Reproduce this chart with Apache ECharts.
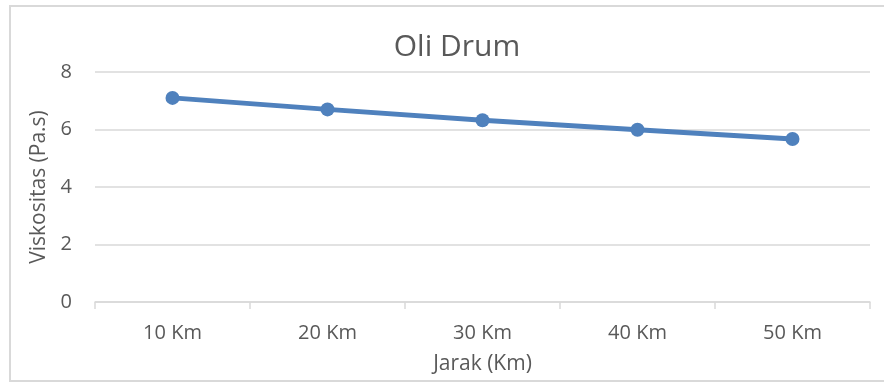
<!DOCTYPE html>
<html>
<head>
<meta charset="utf-8">
<title>Oli Drum</title>
<script src="https://cdn.jsdelivr.net/npm/echarts@6/dist/echarts.min.js"></script>
<style>
  html, body { margin: 0; padding: 0; background: #ffffff; }
  #chart { width: 884px; height: 383px; }
</style>
</head>
<body>
<div id="chart"></div>
<script>
// Distance travelled and measured oil viscosity
const categories = ['10 Km', '20 Km', '30 Km', '40 Km', '50 Km'];
const viskositas = [7.1, 6.7, 6.32, 5.99, 5.67];
const yTicks = { min: 0, max: 8, interval: 2 };

const textColor = '#595959';
const gridColor = '#d9d9d9';
const fontFamily = '"Open Sans", "Noto Sans", sans-serif';

const chart = echarts.init(document.getElementById('chart'), null, { renderer: 'canvas' });

chart.setOption({
  animation: false,
  backgroundColor: '#ffffff',
  textStyle: { fontFamily: fontFamily },
  graphic: [{
    type: 'rect',
    shape: { x: 10, y: 6, width: 884, height: 375 },
    style: { fill: 'none', stroke: '#d9d9d9', lineWidth: 2 },
    silent: true,
    z: -1
  }],
  title: {
    text: 'Oli Drum',
    left: 452,
    top: 27,
    textAlign: 'center',
    textStyle: { fontFamily: fontFamily, fontSize: 30, fontWeight: 'normal', color: textColor }
  },
  grid: { left: 95, right: 14, top: 72, bottom: 81, containLabel: false },
  xAxis: {
    type: 'category',
    data: categories,
    boundaryGap: true,
    name: 'Jarak (Km)',
    nameLocation: 'middle',
    nameGap: 52,
    nameTextStyle: { fontFamily: fontFamily, fontSize: 21, color: textColor },
    axisLine: { show: true, lineStyle: { color: gridColor, width: 1.5 } },
    axisTick: { show: true, length: 7, interval: 0, lineStyle: { color: gridColor, width: 1.5 } },
    axisLabel: { margin: 21, fontFamily: fontFamily, fontSize: 20, color: textColor }
  },
  yAxis: {
    type: 'value',
    min: yTicks.min,
    max: yTicks.max,
    interval: yTicks.interval,
    name: 'Viskositas (Pa.s)',
    nameLocation: 'middle',
    nameGap: 45,
    nameTextStyle: { fontFamily: fontFamily, fontSize: 21, color: textColor },
    axisLine: { show: false },
    axisTick: { show: false },
    splitLine: { show: true, lineStyle: { color: gridColor, width: 1.5 } },
    axisLabel: { margin: 23, fontFamily: fontFamily, fontSize: 20, color: textColor }
  },
  series: [{
    type: 'line',
    data: viskositas,
    symbol: 'circle',
    symbolSize: 14,
    lineStyle: { color: '#4f81bd', width: 5 },
    itemStyle: { color: '#4f81bd' },
    z: 3
  }]
});
</script>
</body>
</html>
